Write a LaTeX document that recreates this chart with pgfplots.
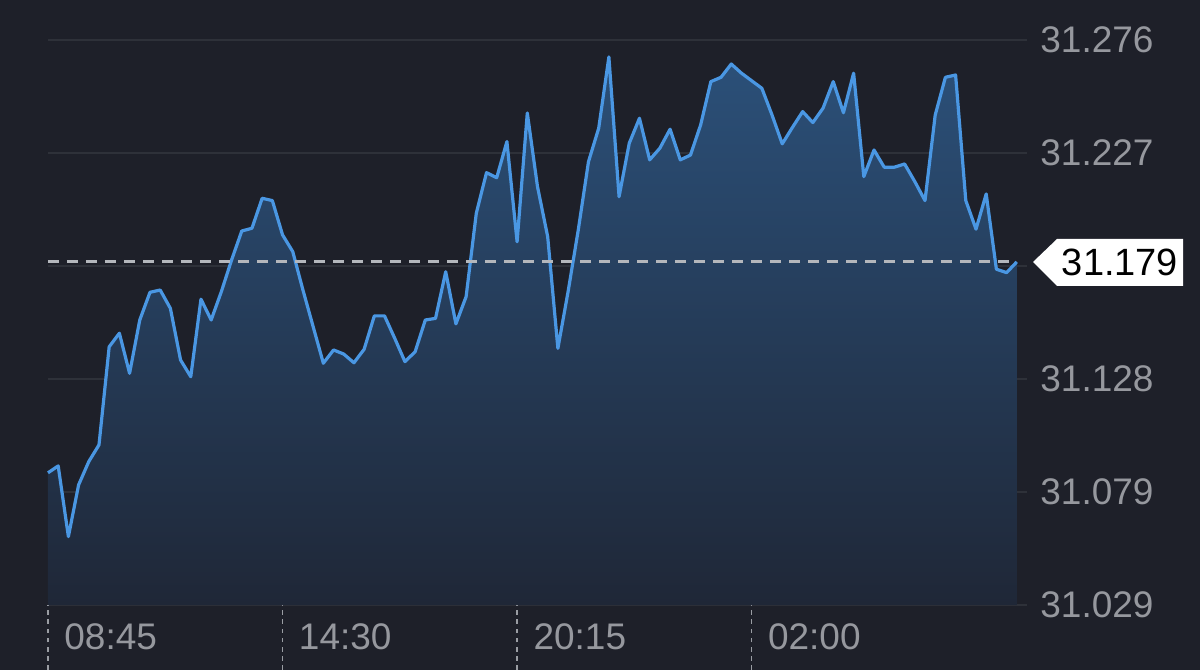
\documentclass[border=0pt]{standalone}
\usepackage{pgfplots}
\usepackage{pgfplotstable}
\pgfplotsset{compat=1.18}
\usepackage{fontspec}
\setmainfont{Liberation Sans}
\definecolor{bg}{HTML}{1E2029}
\definecolor{gridc}{HTML}{2E3139}
\definecolor{linec}{HTML}{4A97E3}
\definecolor{filltop}{HTML}{2B5079}
\definecolor{fillbot}{HTML}{1F2737}
\definecolor{lbl}{HTML}{96989E}
\definecolor{refc}{HTML}{B4B7BC}
\definecolor{tickc}{HTML}{9A9DA3}

\pgfplotstableread{
i v
0 31.0868
1 31.0898
2 31.0589
3 31.0815
4 31.0917
5 31.0990
6 31.1419
7 31.1478
8 31.1303
9 31.1536
10 31.1657
11 31.1667
12 31.1587
13 31.1361
14 31.1288
15 31.1627
16 31.1536
17 31.1660
18 31.1798
19 31.1925
20 31.1937
21 31.2068
22 31.2058
23 31.1908
24 31.1835
25 31.1667
26 31.1507
27 31.1347
28 31.1405
29 31.1387
30 31.1349
31 31.1408
32 31.1554
33 31.1554
34 31.1456
35 31.1354
36 31.1397
37 31.1536
38 31.1543
39 31.1747
40 31.1519
41 31.1638
42 31.2003
43 31.2180
44 31.2158
45 31.2316
46 31.1878
47 31.2441
48 31.2119
49 31.1900
50 31.1412
51 31.1660
52 31.1930
53 31.2228
54 31.2374
55 31.2686
56 31.2075
57 31.2309
58 31.2418
59 31.2236
60 31.2287
61 31.2370
62 31.2236
63 31.2257
64 31.2389
65 31.2578
66 31.2597
67 31.2655
68 31.2615
69 31.2582
70 31.2549
71 31.2432
72 31.2306
73 31.2378
74 31.2447
75 31.2399
76 31.2462
77 31.2578
78 31.2442
79 31.2615
80 31.2163
81 31.2279
82 31.2204
83 31.2204
84 31.2218
85 31.2141
86 31.2058
87 31.2432
88 31.2597
89 31.2607
90 31.2058
91 31.1933
92 31.2087
93 31.1758
94 31.1743
95 31.1790
}\datatable

\begin{document}
\begin{tikzpicture}
\fill[bg] (-24pt,-32.5pt) rectangle (576pt,302.5pt);
\begin{axis}[
  at={(0,0)}, anchor=south west,
  scale only axis, width=489.5pt, height=282.5pt,
  xmin=0, xmax=96, ymin=31.029, ymax=31.276,
  axis line style={draw=none},
  xtick pos=bottom,
  tick align=outside,
  major tick length=32.5pt,
  xtick style={tickc, line width=0.7pt, dash pattern=on 2.3pt off 2.3pt},
  ytick style={draw=none},
  xtick={0,23,46,69},
  xticklabels={08:45,14:30,20:15,02:00},
  xticklabel style={anchor=west, inner sep=0pt, xshift=8pt, yshift=16.5pt, text=lbl, font=\fontsize{18.5}{20}\selectfont},
  ytick={31.029,31.0784,31.1278,31.1772,31.2266,31.276},
  yticklabels={31.029,31.079,31.128,,31.227,31.276},
  yticklabel pos=right,
  yticklabel style={anchor=west, inner sep=0pt, xshift=-26pt, text=lbl, font=\fontsize{18.5}{20}\selectfont},
  ymajorgrids,
  grid style={gridc, line width=0.75pt},
  clip=false,
]
\addplot[draw=none, top color=filltop, bottom color=fillbot] table[x=i,y=v]{\datatable} \closedcycle;
\addplot[linec, line width=1.6pt, line join=round] table[x=i,y=v]{\datatable};
\addplot[refc, line width=1.4pt, dash pattern=on 5.5pt off 4pt] coordinates {(0,31.179) (95,31.179)};
\end{axis}
\fill[white] (492.5pt,171.5pt) -- (504.5pt,183pt) -- (567.5pt,183pt) -- (567.5pt,159.5pt) -- (504.5pt,159.5pt) -- cycle;
\node[black, inner sep=0pt, font=\fontsize{19}{20}\selectfont, anchor=center] at (536pt,171.5pt) {31.179};
\pgfresetboundingbox
\path (-24pt,-32.5pt) rectangle (576pt,302.5pt);
\end{tikzpicture}
\end{document}
